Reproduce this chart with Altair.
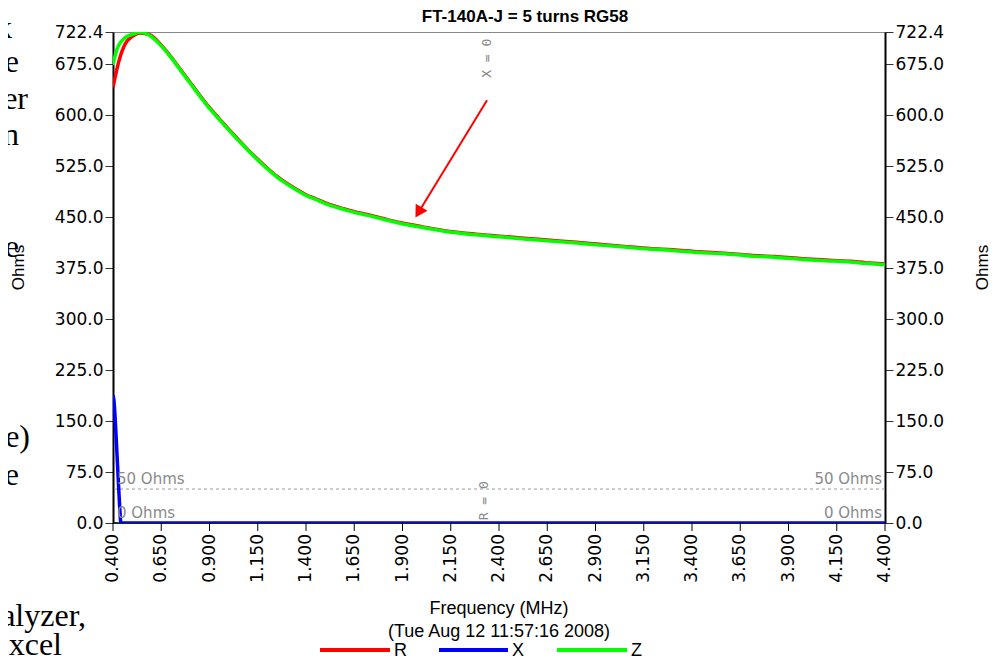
import altair as alt
import pandas as pd

# ---------------- data ----------------
freq_rz = [0.400, 0.418, 0.436, 0.455, 0.473, 0.500, 0.540, 0.592, 0.650, 0.700,
           0.750, 0.800, 0.850, 0.900, 0.950, 1.000, 1.050, 1.100, 1.150, 1.200,
           1.250, 1.300, 1.350, 1.400, 1.450, 1.500, 1.550, 1.600, 1.650, 1.716,
           1.800, 1.887, 2.000, 2.146, 2.280, 2.405, 2.530, 2.664, 2.800, 2.923,
           3.050, 3.182, 3.300, 3.441, 3.570, 3.700, 3.830, 3.960, 4.090, 4.219,
           4.300, 4.400]
z_vals = [674, 695, 706, 712, 716, 719, 722, 717, 702, 685,
          666, 647, 628, 610, 594, 578, 563, 548, 534, 521,
          509, 499, 490, 482, 476, 470, 465, 461, 457, 453,
          447, 441, 435, 428, 424, 421, 418, 415, 412, 409,
          406, 403, 401, 398, 396, 393, 391, 388, 386, 384,
          382, 380]
r_vals = [641, 665, 685, 700, 709, 716, 721, 718, 703, 686,
          667, 648, 629, 611, 595, 579, 564, 549, 535, 522,
          510, 500, 491, 483, 477, 471, 466, 462, 458, 454,
          448, 442, 436, 429, 425, 422, 419, 416, 413, 410,
          407, 404, 402, 399, 397, 394, 392, 389, 387, 385,
          383, 381]

freq_x = [0.400, 0.405, 0.412, 0.420, 0.428, 0.435, 0.441, 0.460, 1.000, 2.000, 3.000, 4.400]
x_vals = [188, 180, 150, 105, 60, 22, 0, 0, 0, 0, 0, 0]

series_names = ["R", "X", "Z"]
series_colors = ["#ff0000", "#0000ff", "#00ff00"]

y_ticks = [0.0, 75.0, 150.0, 225.0, 300.0, 375.0, 450.0, 525.0, 600.0, 675.0, 722.4]
x_ticks = [0.400, 0.650, 0.900, 1.150, 1.400, 1.650, 1.900, 2.150, 2.400, 2.650,
           2.900, 3.150, 3.400, 3.650, 3.900, 4.150, 4.400]
y_domain = [0.0, 722.4]
x_domain = [0.400, 4.400]

ref_values = [50, 0]
ref_labels = ["50 Ohms", "0 Ohms"]

marker_labels = ["X = 0", "R = 0"]
marker_freq = [2.338, 2.322]
marker_ohms = [655, 4]

# arrow annotation (data units)
arrow_f = [2.338]
arrow_v = [622]
arrow_f2 = [1.996]
arrow_v2 = [463]
arrowhead_f = [1.983]
arrowhead_v = [457]

# fragments of the surrounding document text visible at the left edge
doc_fragments = ["k", "e", "er", "n", "e", "e)", "e", "alyzer,", "xcel"]
doc_right_px = [12, 19, 28, 19, 19, 30, 19, 86, 62]             # page x of right edge
doc_baseline_px = [38, 72, 109, 145, 257, 447, 485, 626, 655]   # page y of baseline

title_text = ["FT-140A-J = 5 turns RG58"]
x_title = ["Frequency (MHz)"]
x_subtitle = ["(Tue Aug 12 11:57:16 2008)"]
y_title = "Ohms"

# legend layout (page pixels): start / end of each colour swatch
legend_x0_px = [320, 439, 557]
legend_x1_px = [390, 508, 627]
legend_y_px = 650

# ---------------- build tables ----------------
rows = []
for f, v in zip(freq_rz, r_vals):
    rows.append({"Frequency": f, "Ohms": v, "Series": "R"})
for f, v in zip(freq_x, x_vals):
    rows.append({"Frequency": f, "Ohms": v, "Series": "X"})
for f, v in zip(freq_rz, z_vals):
    rows.append({"Frequency": f, "Ohms": v, "Series": "Z"})
df = pd.DataFrame(rows)

FONT = "Liberation Sans"
TICKFONT = "DejaVu Sans"
PLOT_W, PLOT_H = 772, 491
LEFT, TOP = 105, 24
OX, OY = 8 + LEFT, 8 + TOP   # page position of the plot origin

xs = alt.Scale(domain=x_domain, nice=False, zero=False)
ys = alt.Scale(domain=y_domain, nice=False, zero=False)
cs = alt.Scale(domain=series_names, range=series_colors)

y_axis_left = alt.Axis(values=y_ticks, format=".1f", orient="left", labelFont=TICKFONT,
                       labelFontSize=17, labelColor="black", tickColor="#333", tickSize=8,
                       domainColor="black", domainWidth=2, grid=False, labelPadding=2,
                       title=y_title, titleFont=FONT, titleFontSize=17,
                       titleFontWeight="normal", titleColor="black", titleAngle=270,
                       titleX=-95, titleY=235, titleAlign="center", titleBaseline="middle",
                       labelOverlap=False)
y_axis_right = alt.Axis(values=y_ticks, format=".1f", orient="right", labelFont=TICKFONT,
                        labelFontSize=17, labelColor="black", tickColor="#333", tickSize=8,
                        domainColor="black", domainWidth=2, grid=False, labelPadding=2,
                        title=y_title, titleFont=FONT, titleFontSize=17,
                        titleFontWeight="normal", titleColor="black", titleAngle=270,
                        titleX=97, titleY=235, titleAlign="center", titleBaseline="middle",
                        labelOverlap=False)

ref_df = pd.DataFrame({"Ohms": ref_values, "label": ref_labels})

lines = alt.Chart(df).mark_line(strokeWidth=3.5, clip=True, interpolate="monotone").encode(
    x=alt.X("Frequency:Q", scale=xs, axis=None),
    y=alt.Y("Ohms:Q", scale=ys, axis=y_axis_left),
    color=alt.Color("Series:N", scale=cs, legend=None),
)

ref_rules = alt.Chart(ref_df).mark_rule(color="#999999", strokeWidth=1, strokeDash=[3, 3]).encode(
    y=alt.Y("Ohms:Q", scale=ys, axis=None)
)

ref_text_left = alt.Chart(ref_df).mark_text(align="left", baseline="bottom", dy=-2,
                                            font=TICKFONT, fontSize=15, color="#8a8a8a").encode(
    x=alt.value(4), y=alt.Y("Ohms:Q", scale=ys, axis=None), text="label:N"
)
ref_text_right = alt.Chart(ref_df).mark_text(align="right", baseline="bottom", dy=-2,
                                             font=TICKFONT, fontSize=15, color="#8a8a8a").encode(
    x=alt.value(PLOT_W - 3), y=alt.Y("Ohms:Q", scale=ys, axis=None), text="label:N"
)

marker_df = pd.DataFrame({"Frequency": marker_freq, "Ohms": marker_ohms, "label": marker_labels})
markers = alt.Chart(marker_df).mark_text(angle=270, align="left", baseline="middle",
                                         font="DejaVu Sans Mono", fontSize=13,
                                         color="#888888").encode(
    x=alt.X("Frequency:Q", scale=xs, axis=None),
    y=alt.Y("Ohms:Q", scale=ys, axis=None),
    text="label:N",
)

arrow_df = pd.DataFrame({"f": arrow_f, "v": arrow_v, "f2": arrow_f2, "v2": arrow_v2})
arrow_line = alt.Chart(arrow_df).mark_rule(color="#ff0000", strokeWidth=2).encode(
    x=alt.X("f:Q", scale=xs, axis=None), y=alt.Y("v:Q", scale=ys, axis=None),
    x2="f2:Q", y2="v2:Q",
)
head_df = pd.DataFrame({"f": arrowhead_f, "v": arrowhead_v})
arrow_head = alt.Chart(head_df).mark_point(shape="triangle-up", filled=True, color="#ff0000",
                                           size=190, angle=211, opacity=1).encode(
    x=alt.X("f:Q", scale=xs, axis=None), y=alt.Y("v:Q", scale=ys, axis=None),
)

# ---- x axis drawn from the x scale (ticks, labels, titles) ----
tick_df = pd.DataFrame({"tick": x_ticks})
x_domain_line = alt.Chart(tick_df.iloc[[0]]).mark_rule(color="black", strokeWidth=1.5).encode(
    x=alt.value(0), x2=alt.value(PLOT_W), y=alt.value(PLOT_H)
)
x_tick_marks = alt.Chart(tick_df).mark_rule(color="black", strokeWidth=1).encode(
    x=alt.X("tick:Q", scale=xs, axis=None),
    y=alt.value(PLOT_H), y2=alt.value(PLOT_H + 8),
)
x_tick_labels = alt.Chart(tick_df).mark_text(angle=270, align="right", baseline="middle",
                                             font=TICKFONT, fontSize=17,
                                             color="black").encode(
    x=alt.X("tick:Q", scale=xs, axis=None),
    y=alt.value(PLOT_H + 11),
    text=alt.Text("tick:Q", format=".3f"),
)
xt_df = pd.DataFrame({"t": x_title})
x_title_text = alt.Chart(xt_df).mark_text(align="center", baseline="middle", font=FONT,
                                          fontSize=18, color="black").encode(
    x=alt.value(PLOT_W / 2), y=alt.value(609 - OY), text="t:N"
)
sub_df = pd.DataFrame({"t": x_subtitle})
x_sub = alt.Chart(sub_df).mark_text(align="center", baseline="middle", font=FONT,
                                    fontSize=18, color="black").encode(
    x=alt.value(PLOT_W / 2), y=alt.value(632 - OY), text="t:N"
)
ttl_df = pd.DataFrame({"t": title_text})
top_title = alt.Chart(ttl_df).mark_text(align="center", baseline="middle", font=FONT,
                                        fontSize=17, fontWeight="bold",
                                        color="black").encode(
    x=alt.value(525 - OX), y=alt.value(17 - OY), text="t:N"
)

# ---- text fragments of the surrounding page ----
doc_layers = [
    alt.Chart(pd.DataFrame({"t": [txt]})).mark_text(
        align="right", baseline="alphabetic", font="Liberation Serif",
        fontSize=32, color="black").encode(
        x=alt.value(rx - OX), y=alt.value(by - OY), text="t:N")
    for txt, rx, by in zip(doc_fragments, doc_right_px, doc_baseline_px)
]

# ---- legend ----
leg_df = pd.DataFrame({"Series": series_names,
                       "x0": [v - OX for v in legend_x0_px],
                       "x1": [v - OX for v in legend_x1_px]})
leg_lines = [
    alt.Chart(leg_df.iloc[[i]]).mark_rule(strokeWidth=4).encode(
        x=alt.value(float(leg_df["x0"].iloc[i])), x2=alt.value(float(leg_df["x1"].iloc[i])),
        y=alt.value(legend_y_px - OY),
        color=alt.Color("Series:N", scale=cs, legend=None))
    for i in range(len(leg_df))
]
leg_text = [
    alt.Chart(leg_df.iloc[[i]]).mark_text(align="left", baseline="middle", font=FONT,
                                          fontSize=18, color="black").encode(
        x=alt.value(float(leg_df["x1"].iloc[i]) + 4), y=alt.value(legend_y_px - OY + 1),
        text="Series:N")
    for i in range(len(leg_df))
]

right_axis = alt.Chart(pd.DataFrame({"Ohms": y_domain})).mark_point(opacity=0).encode(
    y=alt.Y("Ohms:Q", scale=ys, axis=y_axis_right)
)

chart = alt.layer(
    ref_rules, x_domain_line, lines, ref_text_left, ref_text_right, markers,
    arrow_line, arrow_head, x_tick_marks, x_tick_labels, x_title_text, x_sub, top_title,
    *doc_layers, *leg_lines, *leg_text, right_axis
).resolve_scale(y="independent").properties(
    width=PLOT_W, height=PLOT_H,
    autosize=alt.AutoSizeParams(type="none"),
    padding={"left": LEFT, "top": TOP, "right": 106, "bottom": 133},
    background="white",
).configure_view(stroke="#888888", strokeWidth=1)

chart.save("out.html", embed_options={"renderer": "svg", "actions": False})
